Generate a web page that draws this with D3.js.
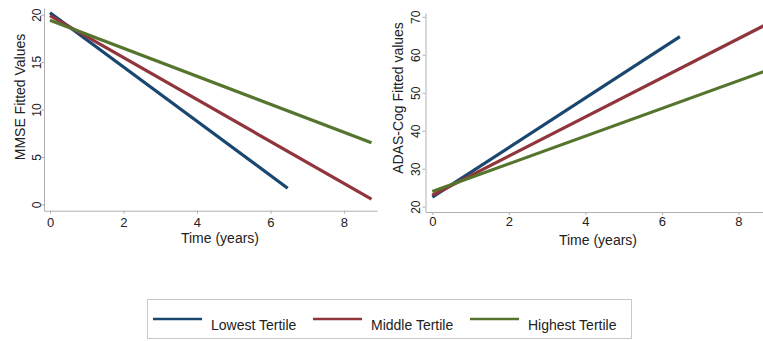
<!DOCTYPE html>
<html>
<head>
<meta charset="utf-8">
<script src="https://cdn.jsdelivr.net/npm/d3@7"></script>
<style>
  body { margin: 0; background: #fff; }
  svg { font-family: "Liberation Sans", Arial, sans-serif; }
</style>
</head>
<body>
<svg id="chart" width="763" height="341"></svg>
<script>
// series names + colours
const seriesNames = ["Lowest Tertile", "Middle Tertile", "Highest Tertile"];
const seriesColors = ["#1a476f", "#90353b", "#55752f"];

// MMSE fitted values: [time, value] endpoints
const mmseLowest = [[0, 20.2], [6.47, 1.7]];
const mmseMiddle = [[0, 19.9], [8.75, 0.55]];
const mmseHighest = [[0, 19.4], [8.75, 6.5]];

// ADAS-Cog fitted values
const adasLowest = [[0, 22.5], [6.47, 64.8]];
const adasMiddle = [[0, 23.0], [8.75, 68.1]];
const adasHighest = [[0, 24.0], [8.75, 55.9]];

const xTicks = [0, 2, 4, 6, 8];
const mmseTicks = [0, 5, 10, 15, 20];
const adasTicks = [20, 30, 40, 50, 60, 70];

const svg = d3.select("#chart");

function drawPanel(opts) {
  const x = d3.scaleLinear().domain(opts.xDomain).range(opts.xRange);
  const y = d3.scaleLinear().domain(opts.yDomain).range(opts.yRange);
  const g = svg.append("g");

  const clipId = "clip" + opts.id;
  g.append("clipPath").attr("id", clipId)
    .append("rect")
    .attr("x", opts.xRange[0]).attr("y", opts.yRange[1])
    .attr("width", opts.xRange[1] - opts.xRange[0])
    .attr("height", opts.yRange[0] - opts.yRange[1]);

  // x axis
  const xa = g.append("g")
    .attr("transform", `translate(0,${opts.yRange[0]})`)
    .call(d3.axisBottom(x).tickValues(xTicks).tickSize(3).tickSizeOuter(0).tickPadding(opts.xPad));
  // y axis
  const ya = g.append("g")
    .attr("transform", `translate(${opts.xRange[0]},0)`)
    .call(d3.axisLeft(y).tickValues(opts.yTicks).tickSize(3).tickSizeOuter(0));

  [xa, ya].forEach((a) => {
    a.select(".domain").attr("stroke", "#b0b0b0").attr("stroke-width", 1);
    a.selectAll(".tick line").attr("stroke", "#b0b0b0");
    a.selectAll("text").attr("fill", "#222");
  });
  xa.selectAll("text").style("font-size", "13px");
  ya.selectAll(".tick text")
    .style("font-size", "12px")
    .attr("x", null).attr("dy", null)
    .attr("text-anchor", "middle")
    .attr("transform", `translate(${opts.yLabOff},0) rotate(-90)`);

  const line = d3.line().x((d) => x(d[0])).y((d) => y(d[1]));
  const lines = g.append("g").attr("clip-path", `url(#${clipId})`);
  opts.series.forEach((s, i) => {
    lines.append("path")
      .datum(s)
      .attr("d", line)
      .attr("fill", "none")
      .attr("stroke", seriesColors[i])
      .attr("stroke-width", 3.2);
  });

  g.append("text")
    .attr("x", opts.xTitlePos[0]).attr("y", opts.xTitlePos[1])
    .attr("text-anchor", "middle")
    .attr("fill", "#222")
    .style("font-size", "14px")
    .text("Time (years)");

  g.append("text")
    .attr("transform", `translate(${opts.yTitlePos[0]},${opts.yTitlePos[1]}) rotate(-90)`)
    .attr("text-anchor", "middle")
    .attr("fill", "#222")
    .style("font-size", "14px")
    .text(opts.yTitle);
}

drawPanel({
  id: "a",
  xDomain: [-0.163, 8.9], xRange: [44, 377],
  yDomain: [-0.67, 20.7], yRange: [210.7, 8],
  yTicks: mmseTicks,
  yLabOff: -3,
  xPad: 4,
  series: [mmseLowest, mmseMiddle, mmseHighest],
  xTitlePos: [220, 243],
  yTitlePos: [25, 97],
  yTitle: "MMSE Fitted Values"
});

drawPanel({
  id: "b",
  xDomain: [-0.178, 8.85], xRange: [425.5, 771],
  yDomain: [18.6, 71], yRange: [212, 13],
  yTicks: adasTicks,
  yLabOff: -5.5,
  xPad: 2,
  series: [adasLowest, adasMiddle, adasHighest],
  xTitlePos: [598, 245],
  yTitlePos: [403, 98],
  yTitle: "ADAS-Cog Fitted values"
});

// legend
const legend = svg.append("g");
legend.append("rect")
  .attr("x", 147.5).attr("y", 299.5)
  .attr("width", 484).attr("height", 39)
  .attr("fill", "#fff").attr("stroke", "#c8c8c8");
const legX = [153, 313, 470];
seriesNames.forEach((name, i) => {
  legend.append("line")
    .attr("x1", legX[i]).attr("x2", legX[i] + 49)
    .attr("y1", 319).attr("y2", 319)
    .attr("stroke", seriesColors[i]).attr("stroke-width", 2.5);
  legend.append("text")
    .attr("x", legX[i] + 58).attr("y", 330)
    .attr("fill", "#222")
    .style("font-size", "14px")
    .text(name);
});
</script>
</body>
</html>
